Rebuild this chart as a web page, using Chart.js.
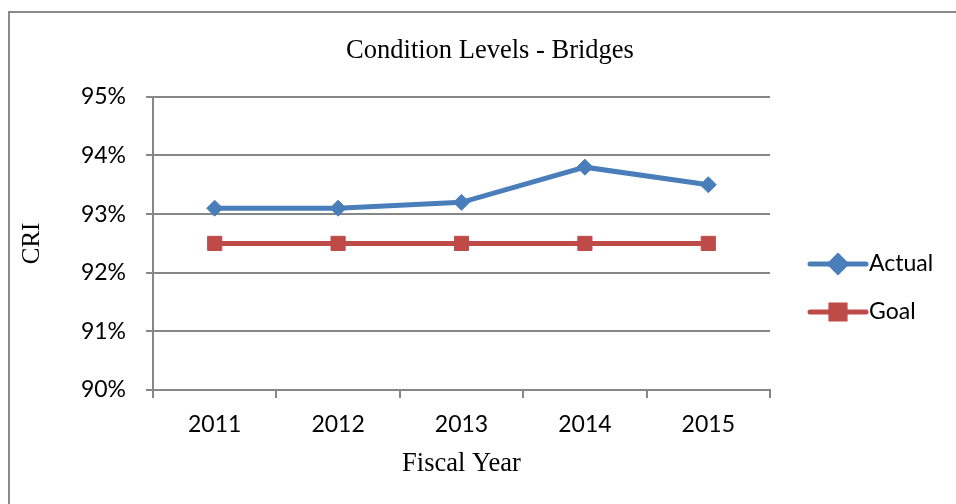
<!DOCTYPE html>
<html>
<head>
<meta charset="utf-8">
<script src="https://cdn.jsdelivr.net/npm/chart.js@4.4.1/dist/chart.umd.min.js"></script>
<style>
	html, body { margin: 0; padding: 0; background: #fff; }
	#wrap { width: 956px; height: 504px; }
</style>
</head>
<body>
<div id="wrap"><canvas id="chart" width="956" height="504"></canvas></div>
<script>
var years = ['2011', '2012', '2013', '2014', '2015'];
var actual = [93.1, 93.1, 93.2, 93.8, 93.5];
var goal = [92.5, 92.5, 92.5, 92.5, 92.5];
var yMin = 90, yMax = 95, yStep = 1;

var gridColor = '#878787',
	blue = '#4a7ebb',
	red = '#be4b48',
	tickFont = { family: 'Lato', size: 23 },
	serifFont = { family: 'Liberation Serif', size: 26.5, weight: 'normal' };

// grey frame round the chart (left and top edge only, like the source crop)
var framePlugin = {
	id: 'frame',
	beforeDraw: function (chart) {
		var ctx = chart.ctx;
		ctx.save();
		ctx.fillStyle = '#fff';
		ctx.fillRect(0, 0, chart.width, chart.height);
		ctx.strokeStyle = '#8a8a8a';
		ctx.lineWidth = 2;
		ctx.beginPath();
		ctx.moveTo(9, chart.height);
		ctx.lineTo(9, 12);
		ctx.lineTo(chart.width, 12);
		ctx.stroke();
		ctx.restore();
	}
};

// Excel style legend: line segment with the marker in the middle
var lineLegend = {
	id: 'lineLegend',
	afterDraw: function (chart) {
		var ctx = chart.ctx,
			x0 = chart.chartArea.right + 40,
			segW = 56;
		chart.data.datasets.forEach(function (ds, i) {
			var y = 264 + i * 48;
			ctx.save();
			ctx.strokeStyle = ds.borderColor;
			ctx.lineWidth = ds.borderWidth;
			ctx.lineCap = 'round';
			ctx.beginPath();
			ctx.moveTo(x0, y);
			ctx.lineTo(x0 + segW, y);
			ctx.stroke();
			ctx.fillStyle = ds.pointBackgroundColor;
			ctx.strokeStyle = ds.pointBorderColor;
			Chart.helpers.drawPoint(ctx, {
				pointStyle: ds.pointStyle,
				radius: ds.pointRadius,
				rotation: 0,
				borderWidth: ds.pointBorderWidth
			}, x0 + segW / 2, y);
			ctx.fillStyle = '#000';
			ctx.font = tickFont.size + 'px ' + tickFont.family;
			ctx.textBaseline = 'middle';
			ctx.textAlign = 'left';
			ctx.fillText(ds.label, x0 + segW + 3, y);
			ctx.restore();
		});
	}
};

var ctx = document.getElementById('chart').getContext('2d');
var myLineChart = new Chart(ctx, {
	type: 'line',
	data: {
		labels: years,
		datasets: [
			{
				label: 'Actual',
				data: actual,
				borderColor: blue,
				borderWidth: 5,
				pointStyle: 'rectRot',
				pointRadius: 8,
				pointBackgroundColor: blue,
				pointBorderColor: blue,
				pointBorderWidth: 1,
				tension: 0
			},
			{
				label: 'Goal',
				data: goal,
				borderColor: red,
				borderWidth: 5,
				pointStyle: 'rect',
				pointRadius: 10,
				pointBackgroundColor: red,
				pointBorderColor: red,
				pointBorderWidth: 1,
				tension: 0
			}
		]
	},
	options: {
		responsive: false,
		animation: false,
		layout: { padding: { left: 24, right: 0, top: 0, bottom: 0 } },
		plugins: {
			legend: { display: false },
			tooltip: { enabled: false },
			title: {
				display: true,
				text: 'Condition Levels - Bridges',
				color: '#000',
				font: serifFont,
				padding: { top: 35, bottom: 30 }
			}
		},
		scales: {
			x: {
				type: 'category',
				offset: true,
				grid: {
					offset: true,
					drawOnChartArea: false,
					drawTicks: true,
					tickLength: 8,
					color: gridColor,
					lineWidth: 2
				},
				border: { display: true, color: gridColor, width: 2 },
				ticks: { color: '#000', font: tickFont, padding: 13 },
				title: {
					display: true,
					text: 'Fiscal Year',
					color: '#000',
					font: serifFont,
					padding: { top: 0, bottom: 24 }
				},
				afterFit: function (s) { s.height = 114; }
			},
			y: {
				min: yMin,
				max: yMax,
				grid: {
					color: gridColor,
					lineWidth: 2,
					drawTicks: true,
					tickLength: 7
				},
				border: { display: true, color: gridColor, width: 2 },
				ticks: {
					stepSize: yStep,
					color: '#000',
					font: tickFont,
					padding: 20,
					callback: function (v) { return v + '%'; }
				},
				title: {
					display: true,
					text: 'CRI',
					color: '#000',
					font: { family: 'Liberation Serif', size: 25, weight: 'normal', lineHeight: 1 },
					padding: { top: -4, bottom: 0 }
				},
				afterFit: function (s) { s.width = 129; }
			},
			legendSpace: {
				type: 'linear',
				axis: 'y',
				position: 'right',
				display: true,
				grid: { display: false },
				border: { display: false },
				ticks: { display: false },
				afterFit: function (s) { s.width = 186; }
			}
		}
	},
	plugins: [framePlugin, lineLegend]
});
</script>
</body>
</html>
